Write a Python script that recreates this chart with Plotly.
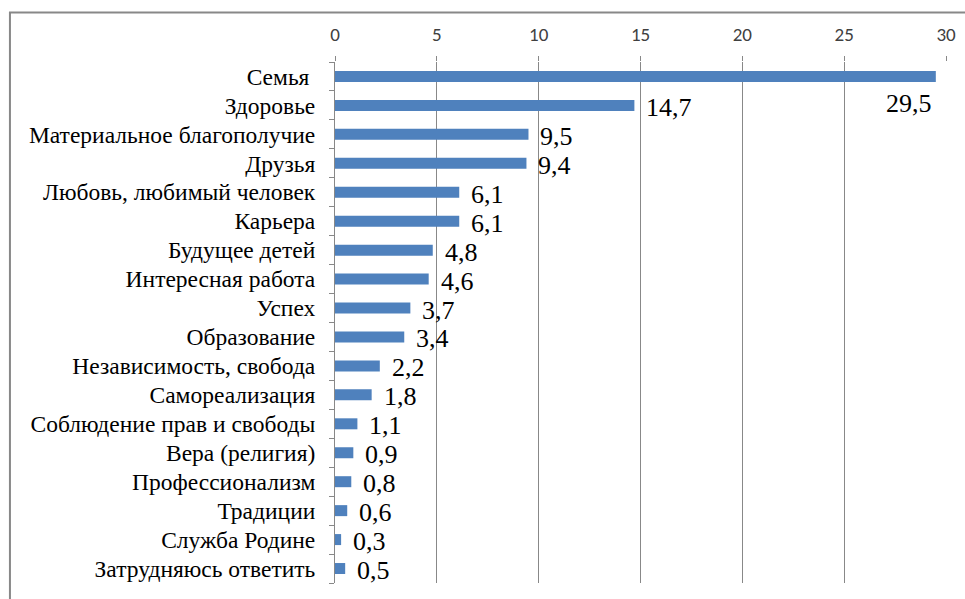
import plotly.graph_objects as go

categories = ["Семья ", "Здоровье", "Материальное благополучие", "Друзья",
              "Любовь, любимый человек", "Карьера", "Будущее детей",
              "Интересная работа", "Успех", "Образование",
              "Независимость, свобода", "Самореализация",
              "Соблюдение прав и свободы", "Вера (религия)",
              "Профессионализм", "Традиции", "Служба Родине",
              "Затрудняюсь ответить"]
values = [29.5, 14.7, 9.5, 9.4, 6.1, 6.1, 4.8, 4.6, 3.7, 3.4,
          2.2, 1.8, 1.1, 0.9, 0.8, 0.6, 0.3, 0.5]
x_ticks = [0, 5, 10, 15, 20, 25, 30]

SERIF = "Liberation Serif"
SANS = "Carlito"
GRAY = "#888888"

fig = go.Figure()
fig.add_trace(go.Bar(
    x=values, y=list(range(len(categories))), orientation="h",
    marker=dict(color="#4F81BD", line=dict(width=0)),
    width=0.38, hoverinfo="skip",
))

labels = [f"{v:.1f}".replace(".", ",") for v in values]
for i, (v, t) in enumerate(zip(values, labels)):
    if v > 28:
        fig.add_annotation(x=v, y=i, text=t, showarrow=False,
                           xanchor="right", yanchor="middle", xshift=-2, yshift=-27,
                           font=dict(family=SERIF, size=26, color="#000"))
    else:
        fig.add_annotation(x=v, y=i, text=t, showarrow=False,
                           xanchor="left", yanchor="middle", xshift=10, yshift=-2,
                           font=dict(family=SERIF, size=26, color="#000"))

# outer chart frame
fig.add_shape(type="rect", xref="paper", yref="paper",
              x0=-0.532, x1=1.2, y0=-0.2, y1=1.095,
              line=dict(color=GRAY, width=2), fillcolor="rgba(0,0,0,0)",
              layer="below")

boundaries = [i + 0.5 for i in range(-1, len(categories))]

fig.update_layout(
    width=965, height=599,
    margin=dict(l=335, r=19, t=62, b=16),
    paper_bgcolor="white", plot_bgcolor="white",
    showlegend=False,
    xaxis=dict(side="top", range=[0, 30], tickvals=x_ticks,
               ticks="outside", ticklen=5, tickcolor=GRAY,
               showgrid=True, gridcolor=GRAY, gridwidth=1,
               zeroline=False, showline=False, automargin=False,
               tickfont=dict(family=SANS, size=19, color="#404040"),
               ticklabelstandoff=7, fixedrange=True),
    yaxis=dict(range=[len(categories) - 0.5, -0.5],
               tickvals=list(range(len(categories))), ticktext=categories,
               ticks="", showline=True, linecolor=GRAY,
               linewidth=1, showgrid=False, zeroline=False, automargin=False,
               minor=dict(tickvals=boundaries, ticks="outside", ticklen=5,
                          tickcolor=GRAY, showgrid=False),
               tickfont=dict(family=SERIF, size=23.5, color="#000"),
               ticklabelstandoff=14, fixedrange=True),
)

fig.write_html("out.html", config={"displayModeBar": False},
               post_script="document.body.style.margin='0';")
